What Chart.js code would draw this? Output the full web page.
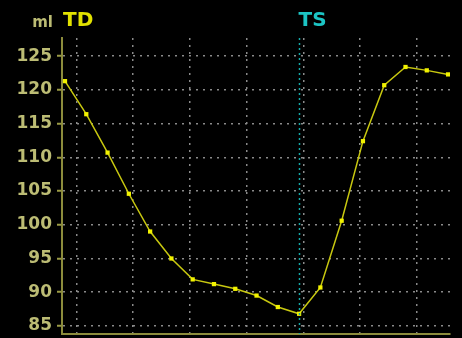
<!DOCTYPE html>
<html>
<head>
<meta charset="utf-8">
<script src="https://cdn.jsdelivr.net/npm/chart.js@4/dist/chart.umd.min.js"></script>
<style>
  html, body { margin: 0; padding: 0; background: #000; }
  #wrap { width: 462px; height: 338px; }
</style>
</head>
<body>
<div id="wrap"><canvas id="c" width="462" height="338"></canvas></div>
<script>
// Sample times (ms) of the volume curve, one per frame
const times = [80, 117.5, 155, 192.5, 230, 267.5, 305, 342.5, 380, 417.5,
               455, 492.5, 530, 567.5, 605, 642.5, 680, 717.5, 755];
// Volume (ml) at each frame
const volumes = [121.3, 116.4, 110.7, 104.6, 99.0, 95.0, 91.9, 91.2, 90.5, 89.5,
                 87.8, 86.8, 90.7, 100.6, 112.4, 120.7, 123.4, 122.9, 122.3];
// Axis ticks
const volumeTicks = [85, 90, 95, 100, 105, 110, 115, 120, 125];
const timeTicks = [100, 200, 300, 400, 500, 600, 700];
// Phase markers: end-diastole and end-systole
const markerNames = ['TD', 'TS'];
const markerTimes = [80, 492.5];
const unitLabel = 'ml';

const FONT = '"DejaVu Sans", "Liberation Sans", sans-serif';

const markerPlugin = {
  id: 'phaseMarkers',
  afterDraw(chart) {
    const { ctx, chartArea, scales } = chart;
    const x = scales.x;
    ctx.save();
    // Dotted cyan line for end-systole
    const tsX = Math.round(x.getPixelForValue(markerTimes[1])) + 0.5;
    ctx.strokeStyle = '#14a8a8';
    ctx.lineWidth = 1.5;
    ctx.setLineDash([2, 3]);
    ctx.beginPath();
    ctx.moveTo(tsX, chartArea.top);
    ctx.lineTo(tsX, chartArea.bottom);
    ctx.stroke();
    ctx.setLineDash([]);

    ctx.font = 'bold 20px ' + FONT;
    ctx.textBaseline = 'middle';
    ctx.textAlign = 'left';
    ctx.fillStyle = '#e2e200';
    ctx.fillText(markerNames[0], x.getPixelForValue(markerTimes[0]) - 2, 21);
    ctx.fillStyle = '#1cc4c4';
    ctx.fillText(markerNames[1], tsX - 1, 21);

    ctx.font = 'bold 15px ' + FONT;
    ctx.fillStyle = '#bcbc74';
    ctx.textAlign = 'right';
    ctx.fillText(unitLabel, 53, 23);
    ctx.restore();
  }
};

new Chart(document.getElementById('c'), {
  type: 'line',
  data: {
    datasets: [{
      data: times.map((t, i) => ({ x: t, y: volumes[i] })),
      borderColor: '#c8c810',
      borderWidth: 1.5,
      pointStyle: 'rect',
      pointRadius: 3,
      pointBackgroundColor: '#f2f200',
      pointBorderColor: '#f2f200',
      pointBorderWidth: 0,
      tension: 0
    }]
  },
  options: {
    responsive: false,
    animation: false,
    events: [],
    layout: { padding: { top: 38, right: 12, bottom: 0, left: 0 } },
    plugins: { legend: { display: false }, tooltip: { enabled: false } },
    scales: {
      x: {
        type: 'linear',
        min: 74.7,
        max: 758.4,
        afterBuildTicks(scale) { scale.ticks = timeTicks.map(v => ({ value: v })); },
        afterFit(scale) {
          scale.height = 0;
          scale.paddingLeft = 0; scale.paddingRight = 0;
        },
        ticks: { display: false },
        grid: { color: '#8a8a8a', lineWidth: 1.5, drawTicks: false },
        border: { display: true, color: '#8c8c3c', width: 2, dash: [2, 5] }
      },
      y: {
        min: 83.8,
        max: 127.7,
        afterBuildTicks(scale) { scale.ticks = volumeTicks.map(v => ({ value: v })); },
        afterFit(scale) {
          scale.width = 62;
          scale.paddingTop = 0; scale.paddingBottom = 0;
        },
        ticks: {
          color: '#bcbc74',
          padding: 5,
          font: { family: FONT, size: 17, weight: 'bold' }
        },
        grid: {
          color: '#8a8a8a', lineWidth: 1.5, tickLength: 5,
          tickColor: '#9a9a44', tickWidth: 2, tickBorderDash: [0, 0]
        },
        border: { display: true, color: '#8c8c3c', width: 2, dash: [2, 5] }
      }
    }
  },
  plugins: [markerPlugin]
});
</script>
</body>
</html>
